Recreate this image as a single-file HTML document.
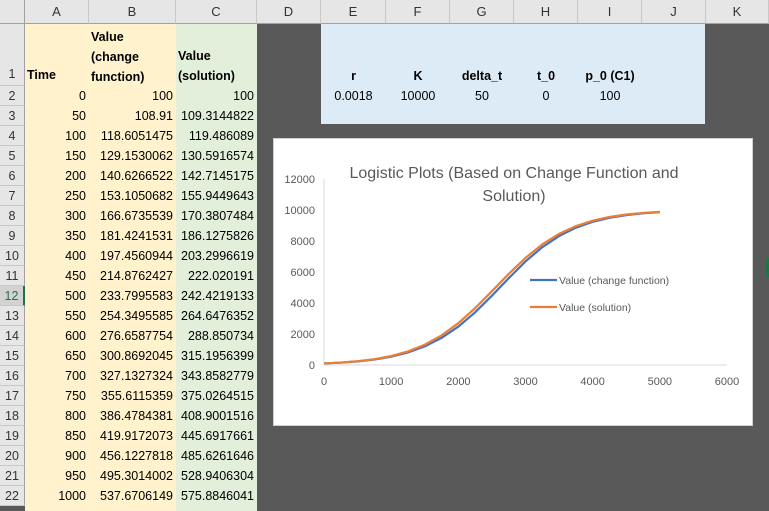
<!DOCTYPE html>
<html><head><meta charset="utf-8"><style>
body{margin:0;width:769px;height:511px;overflow:hidden;background:#595959;font-family:"Liberation Sans",sans-serif;position:relative}
div{position:absolute;box-sizing:border-box}
.ch{top:0;height:24px;background:#e6e6e6;border-right:1px solid #c8c8c8;border-bottom:1px solid #a0a0a0;font-size:13px;color:#333;text-align:center;line-height:24px}
.rh{left:0;width:25px;background:#e6e6e6;border-bottom:1px solid #c8c8c8;border-right:1px solid #a0a0a0;font-size:12.5px;color:#333;text-align:center}
.c{font-size:12.5px;color:#000;white-space:nowrap;height:20px;line-height:20px}
.r{text-align:right;padding-right:3px}
</style></head><body>
<div id="sheet" style="left:0;top:0;width:769px;height:511px"></div>
<div style="left:25px;top:24px;width:151px;height:487px;background:#fff2cc"></div>
<div style="left:176px;top:24px;width:81px;height:487px;background:#e2efda"></div>
<div style="left:321px;top:24px;width:384px;height:100px;background:#ddebf7"></div>
<div style="left:273px;top:138px;width:480px;height:288px;background:#fff;border:1px solid #d0d0d0">
<svg id="chart" width="480" height="288"></svg>
</div>
<script>
const colNames=["A","B","C","D","E","F","G","H","I","J","K"];
const colX=[25,89,176,257,321,386,450,514,578,642,706,769];
const times=[0,50,100,150,200,250,300,350,400,450,500,550,600,650,700,750,800,850,900,950,1000];
const valB=["100","108.91","118.6051475","129.1530062","140.6266522","153.1050682","166.6735539","181.4241531","197.4560944","214.8762427","233.7995583","254.3495585","276.6587754","300.8692045","327.1327324","355.6115359","386.4784381","419.9172073","456.1227818","495.3014002","537.6706149"];
const valC=["100","109.3144822","119.486089","130.5916574","142.7145175","155.9449643","170.3807484","186.1275826","203.2996619","222.020191","242.4219133","264.6476352","288.850734","315.1956399","343.8582779","375.0264515","408.9001516","445.6917661","485.6261646","528.9406304","575.8846041"];
function mk(html,style,name,cls){const d=document.createElement('div');d.className=cls||'';d.setAttribute('style',style);d.innerHTML=html;


document.body.appendChild(d);return d;}
const corner=mk('','left:0;top:0;width:25px;height:24px;background:#e6e6e6;border-right:1px solid #a0a0a0;border-bottom:1px solid #a0a0a0','corner','');
for(let i=0;i<11;i++){const d=mk(colNames[i],`left:${colX[i]}px;width:${colX[i+1]-colX[i]}px`,'column-header-'+colNames[i].toLowerCase(),'ch');}
mk('1','top:24px;height:62px;line-height:100px','row-header-1','rh');
for(let r=2;r<=22;r++){const d=mk(String(r),`top:${86+(r-2)*20}px;height:20px;line-height:20px`+(r==12?';background:#d2d2d2;color:#217346;border-right:2px solid #217346':''),'row-header-'+r,'rh');}
mk('Time','left:27px;top:65px;font-weight:bold','header-time','c');
mk('Value<br>(change<br>function)','left:91px;top:27px;font-weight:bold;height:60px;line-height:20px','header-change','c');
mk('Value<br>(solution)','left:178px;top:46px;font-weight:bold;height:40px;line-height:20px','header-solution','c');
for(let i=0;i<times.length;i++){const y=86+i*20;
mk(String(times[i]),`left:25px;top:${y}px;width:64px`,'time-cell','c r');
mk(valB[i],`left:89px;top:${y}px;width:87px`,'change-cell','c r');
mk(valC[i],`left:176px;top:${y}px;width:81px`,'solution-cell','c r');}
const pNames=["r","K","delta_t","t_0","p_0 (C1)"];const pVals=["0.0018","10000","50","0","100"];
for(let i=0;i<5;i++){mk(pNames[i],`left:${colX[4+i]}px;top:66px;width:${colX[5+i]-colX[4+i]}px;text-align:center;font-weight:bold`,'param-name','c');
mk(pVals[i],`left:${colX[4+i]}px;top:86px;width:${colX[5+i]-colX[4+i]}px;text-align:center`,'param-value','c');}
mk('','left:766px;top:258px;width:3px;height:20px;background:#217346','selection-marker','');
</script>
<script>
const xTicks=[0,1000,2000,3000,4000,5000,6000];
const yTicks=[0,2000,4000,6000,8000,10000,12000];
const seriesT=[0,250,500,750,1000,1250,1500,1750,2000,2250,2500,2750,3000,3250,3500,3750,4000,4250,4500,4750,5000];
const seriesChange=[100,153,234,356,538,810,1200,1750,2480,3400,4470,5600,6680,7600,8320,8860,9240,9500,9670,9790,9860];
const seriesSolution=[100,156,243,375,576,875,1307,1908,2699,3671,4762,5878,6910,7781,8462,8961,9312,9550,9709,9812,9879];
const svg=document.getElementById('chart');const NS='http://www.w3.org/2000/svg';
const X=v=>50+v*(403/6000), Y=v=>226-v*(186/12000);
function el(t,a,name){const e=document.createElementNS(NS,t);for(const k in a)e.setAttribute(k,a[k]);


svg.appendChild(e);return e;}
el('line',{x1:X(0),y1:Y(0),x2:X(6000),y2:Y(0),stroke:'#d9d9d9'},'x-axis');
el('line',{x1:X(0),y1:Y(0),x2:X(0),y2:Y(12000),stroke:'#d9d9d9'},'y-axis');
xTicks.forEach(v=>{const t=el('text',{x:X(v),y:Y(0)+20,'text-anchor':'middle','font-size':'11','fill':'#595959','font-family':'Liberation Sans'},'x-tick-label');t.textContent=v;});
yTicks.forEach(v=>{const t=el('text',{x:X(0)-9,y:Y(v)+4,'text-anchor':'end','font-size':'11','fill':'#595959','font-family':'Liberation Sans'},'y-tick-label');t.textContent=v;});
function pts(s){return seriesT.map((t,i)=>X(t)+','+Y(s[i])).join(' ');}
el('polyline',{points:pts(seriesChange),fill:'none',stroke:'#4472c4','stroke-width':'2.2'},'series-change-function');
el('polyline',{points:pts(seriesSolution),fill:'none',stroke:'#ed7d31','stroke-width':'2.2'},'series-solution');
const t1=el('text',{x:240,y:39,'text-anchor':'middle','font-size':'16','fill':'#595959','font-family':'Liberation Sans'},'chart-title');t1.textContent='Logistic Plots (Based on Change Function and';
const t2=el('text',{x:240,y:62,'text-anchor':'middle','font-size':'16','fill':'#595959','font-family':'Liberation Sans'},'chart-title-line2');t2.textContent='Solution)';
el('line',{x1:256,y1:141,x2:283,y2:141,stroke:'#4472c4','stroke-width':'2.2'},'legend-swatch-change');
const l1=el('text',{x:285,y:145,'font-size':'10.5','fill':'#595959','font-family':'Liberation Sans'},'legend-label-change');l1.textContent='Value (change function)';
el('line',{x1:256,y1:168,x2:283,y2:168,stroke:'#ed7d31','stroke-width':'2.2'},'legend-swatch-solution');
const l2=el('text',{x:285,y:172,'font-size':'10.5','fill':'#595959','font-family':'Liberation Sans'},'legend-label-solution');l2.textContent='Value (solution)';
</script>
</body></html>
